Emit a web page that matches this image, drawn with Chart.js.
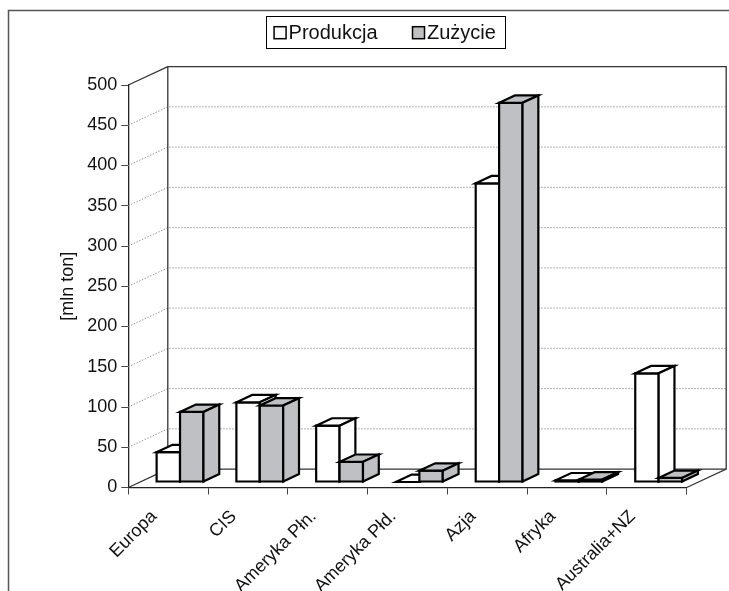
<!DOCTYPE html>
<html>
<head>
<meta charset="utf-8">
<script src="https://cdn.jsdelivr.net/npm/chart.js@4.4.1/dist/chart.umd.min.js"></script>
<style>
  html, body { margin: 0; padding: 0; background: #fff; }
  canvas { display: block; }
</style>
</head>
<body>
<canvas id="chart" width="729" height="591"></canvas>
<script>
// Regions
const categories = ['Europa', 'CIS', 'Ameryka Płn.', 'Ameryka Płd.', 'Azja', 'Afryka', 'Australia+NZ'];
// Production and consumption, million tonnes
const produkcja = [37, 99, 70, 0, 371, 2, 135];
const zuzycie   = [87, 95, 25, 14, 471, 3, 5];
const seriesNames = ['Produkcja', 'Zużycie'];
const yAxisTitle = '[mln ton]';

const FONT = '"Liberation Sans", Arial, Helvetica, sans-serif';
const SERIES_COLORS = ['#ffffff', '#bfc0c3'];
const DEPTH = { x: 39.5, y: 18.4 };          // receding offset of floor and walls
const SLAB = { front: 0.3, back: 0.7 };      // bars sit in the middle of the depth
const LEGEND = { cx: 385, top: 16, bottom: 48, box: 12, gap: 2.5, spacing: 35, pad: 8.5, size: 20, baseline: 38.7 };

function line(ctx, pts) {
  ctx.beginPath();
  ctx.moveTo(pts[0][0], pts[0][1]);
  for (let i = 1; i < pts.length; i++) ctx.lineTo(pts[i][0], pts[i][1]);
  ctx.stroke();
}

function poly(ctx, pts, fill) {
  ctx.beginPath();
  ctx.moveTo(pts[0][0], pts[0][1]);
  for (let i = 1; i < pts.length; i++) ctx.lineTo(pts[i][0], pts[i][1]);
  ctx.closePath();
  ctx.fillStyle = fill;
  ctx.fill();
  ctx.stroke();
}

const scene3d = {
  id: 'scene3d',
  beforeDraw(chart) {
    const ctx = chart.ctx;
    ctx.save();
    ctx.fillStyle = '#fff';
    ctx.fillRect(0, 0, chart.width, chart.height);
    // outer frame (open to the right and bottom)
    ctx.strokeStyle = '#555';
    ctx.lineWidth = 1.5;
    line(ctx, [[8.5, chart.height], [8.5, 10.5], [chart.width, 10.5]]);
    ctx.restore();
  },
  beforeDatasetsDraw(chart) {
    const ctx = chart.ctx;
    const { left, right, top, bottom } = chart.chartArea;
    const yScale = chart.scales.y;
    const dx = DEPTH.x, dy = DEPTH.y;
    ctx.save();

    // dotted gridlines on the side and back walls
    ctx.strokeStyle = '#9a9a9a';
    ctx.lineWidth = 1;
    ctx.setLineDash([1.5, 1.5]);
    yScale.ticks.forEach(t => {
      if (t.value === yScale.min || t.value === yScale.max) return;
      const y = yScale.getPixelForValue(t.value);
      line(ctx, [[left, y], [left + dx, y - dy], [right + dx, y - dy]]);
    });
    ctx.setLineDash([]);

    // wall and floor edges
    ctx.strokeStyle = '#333';
    ctx.lineWidth = 1.3;
    line(ctx, [[left, top], [left + dx, top - dy], [right + dx, top - dy], [right + dx, bottom - dy], [right, bottom]]);
    line(ctx, [[left + dx, top - dy], [left + dx, bottom - dy], [right + dx, bottom - dy]]);
    line(ctx, [[left, bottom], [left + dx, bottom - dy]]);

    // 3D columns built from the bar elements laid out by Chart.js
    const fx = dx * SLAB.front, fy = dy * SLAB.front;
    const ddx = dx * (SLAB.back - SLAB.front), ddy = dy * (SLAB.back - SLAB.front);
    const metas = chart.data.datasets.map((_, i) => chart.getDatasetMeta(i));
    ctx.strokeStyle = '#000';
    ctx.lineWidth = 2.2;
    ctx.lineJoin = 'miter';
    for (let j = 0; j < chart.data.labels.length; j++) {
      metas.forEach((meta, i) => {
        const el = meta.data[j];
        const p = el.getProps(['x', 'y', 'base', 'width'], true);
        const color = chart.data.datasets[i].backgroundColor;
        const L = p.x - p.width / 2 + fx, R = p.x + p.width / 2 + fx;
        const T = p.y - fy, B = p.base - fy;
        poly(ctx, [[L, T], [R, T], [R, B], [L, B]], color);
        poly(ctx, [[L, T], [R, T], [R + ddx, T - ddy], [L + ddx, T - ddy]], color);
        poly(ctx, [[R, T], [R, B], [R + ddx, B - ddy], [R + ddx, T - ddy]], color);
      });
    }
    ctx.restore();
    return false;
  },
  afterDraw(chart) {
    const ctx = chart.ctx;
    ctx.save();
    ctx.font = LEGEND.size + 'px ' + FONT;
    const items = chart.data.datasets.map(ds => ({
      label: ds.label, color: ds.backgroundColor, w: ctx.measureText(ds.label).width
    }));
    let total = 0;
    items.forEach((it, i) => { total += LEGEND.box + LEGEND.gap + it.w + (i ? LEGEND.spacing : 0); });
    const x0 = LEGEND.cx - total / 2;
    ctx.strokeStyle = '#000';
    ctx.lineWidth = 1;
    ctx.strokeRect(Math.round(x0 - LEGEND.pad) + 0.5, LEGEND.top + 0.5,
                   Math.round(total + 2 * LEGEND.pad), LEGEND.bottom - LEGEND.top);
    let x = x0;
    items.forEach(it => {
      const by = LEGEND.baseline - LEGEND.box;
      ctx.fillStyle = it.color;
      ctx.fillRect(x, by, LEGEND.box, LEGEND.box);
      ctx.lineWidth = 1.5;
      ctx.strokeStyle = '#000';
      ctx.strokeRect(x, by, LEGEND.box, LEGEND.box);
      ctx.fillStyle = '#111';
      ctx.textBaseline = 'alphabetic';
      ctx.textAlign = 'left';
      ctx.fillText(it.label, x + LEGEND.box + LEGEND.gap, LEGEND.baseline);
      x += LEGEND.box + LEGEND.gap + it.w + LEGEND.spacing;
    });
    ctx.restore();
  }
};

new Chart(document.getElementById('chart'), {
  type: 'bar',
  data: {
    labels: categories,
    datasets: [
      { label: seriesNames[0], data: produkcja, backgroundColor: SERIES_COLORS[0] },
      { label: seriesNames[1], data: zuzycie, backgroundColor: SERIES_COLORS[1] }
    ]
  },
  options: {
    responsive: false,
    animation: false,
    devicePixelRatio: 1,
    layout: { padding: { top: 85, right: 42.3, bottom: 0, left: 0 } },
    datasets: { bar: { categoryPercentage: 0.587, barPercentage: 1 } },
    plugins: { legend: { display: false }, tooltip: { enabled: false } },
    scales: {
      x: {
        grid: { drawOnChartArea: false, drawTicks: true, tickLength: 7, color: '#444', offset: true },
        border: { color: '#222', width: 1.3 },
        ticks: {
          autoSkip: false, minRotation: 45, maxRotation: 45, padding: 11.5, labelOffset: -14.2,
          color: '#111', font: { family: FONT, size: 18 }
        },
        afterFit: s => { s.height = 103.5; }
      },
      y: {
        min: 0, max: 500,
        ticks: { stepSize: 50, padding: 4, color: '#111', font: { family: FONT, size: 18 } },
        grid: { drawOnChartArea: false, drawTicks: true, tickLength: 7, color: '#444' },
        border: { color: '#222', width: 1.3 },
        title: {
          display: true, text: yAxisTitle, color: '#111',
          font: { family: FONT, size: 18 }, padding: { top: 57.2, bottom: 0 }
        },
        afterFit: s => { s.width = 128.3; }
      }
    }
  },
  plugins: [scene3d]
});
</script>
</body>
</html>
